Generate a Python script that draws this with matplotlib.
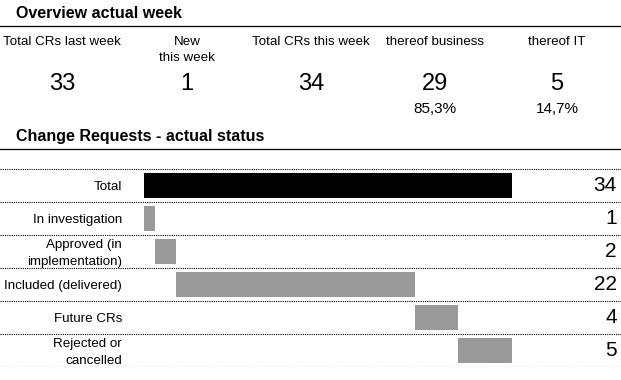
import numpy as np
import matplotlib.pyplot as plt
import matplotlib.transforms as mtransforms

plt.rcParams['font.family'] = ['Liberation Sans', 'DejaVu Sans']

# Overview data
kpi_labels = ["Total CRs last week", "New\nthis week", "Total CRs this week",
              "thereof business", "thereof IT"]
kpi_values = [33, 1, 34, 29, 5]
kpi_share = [None, None, None, "85,3%", "14,7%"]

# Status data (waterfall)
status_labels = ["Total", "In investigation", "Approved (in\nimplementation)",
                 "Included (delivered)", "Future CRs", "Rejected or\ncancelled"]
status_values = [34, 1, 2, 22, 4, 5]

W, H = 621, 380
fig = plt.figure(figsize=(W / 100, H / 100), dpi=100)


def fx(px):
    return px / W


def fy(py):
    return 1 - py / H


# section titles and rules
fig.text(fx(16), fy(14), "Overview actual week", fontsize=11.5, fontweight='bold',
         ha='left', va='center')
fig.text(fx(16), fy(136), "Change Requests - actual status", fontsize=11.5,
         fontweight='bold', ha='left', va='center')
for py in (26, 149):
    fig.add_artist(plt.Line2D([0, 1], [fy(py), fy(py)], color='black', lw=0.9,
                              transform=fig.transFigure))

# KPI row
kpi_x = [62, 187, 311, 435, 557]
for x, lab, val, share in zip(kpi_x, kpi_labels, kpi_values, kpi_share):
    for k, ln in enumerate(lab.split("\n")):
        fig.text(fx(x), fy(42 + 16 * k), ln, fontsize=9.6, ha='center', va='center')
    fig.text(fx(x), fy(84), str(val), fontsize=17, ha='center', va='center')
    if share:
        fig.text(fx(x), fy(109), share, fontsize=11, ha='center', va='center')

# Waterfall chart
top_px, bot_px = 169, 367
ax = fig.add_axes([0, fy(bot_px), 1, (bot_px - top_px) / H])
n = len(status_values)
scale = 368 / status_values[0]  # px per unit
ax.set_xlim(-144 / scale, (W - 144) / scale)
ax.set_ylim(n, 0)
ax.axis('off')

lefts = [0, 0] + list(np.cumsum(status_values[1:-1]))
colors = ['black'] + ['#999999'] * (n - 1)
ypos = np.arange(n) + 0.5
ax.barh(ypos, status_values, left=lefts, height=0.76, color=colors)

for i in range(n + 1):
    ax.axhline(i, color='black', lw=0.8, ls=(0, (1, 1)))

tr = mtransforms.blended_transform_factory(ax.transAxes, ax.transData)
for y, lab, val in zip(ypos, status_labels, status_values):
    ax.text(fx(122), y + 0.06, lab, fontsize=9.6, ha='right', va='center',
            linespacing=1.45, transform=tr)
    ax.text(fx(617), y, str(val), fontsize=15, ha='right', va='center',
            transform=tr)

fig.savefig("out.png", dpi=100)
